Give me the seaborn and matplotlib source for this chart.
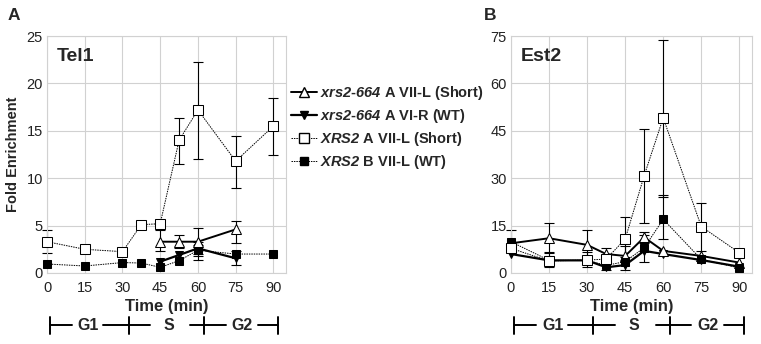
import seaborn as sns
import matplotlib.pyplot as plt
import matplotlib.transforms as mtransforms
from matplotlib.lines import Line2D
import numpy as np

nan = np.nan

# data
time = [0, 15, 30, 37.5, 45, 52.5, 60, 75, 90]
xticks = [0, 15, 30, 45, 60, 75, 90]
phase_labels = ["G1", "S", "G2"]
phase_ticks = [1, 32.5, 62.5, 92]

labels = [
    r"$xrs2$-$664$ A VII-L (Short)",
    r"$xrs2$-$664$ A VI-R (WT)",
    r"$XRS2$ A VII-L (Short)",
    r"$XRS2$ B VII-L (WT)",
]

# Tel1 (panel A)
tel1_mut_short = [nan, nan, nan, nan, 3.3, 3.3, 3.3, 4.6, nan]
tel1_mut_short_lo = [nan, nan, nan, nan, 2.3, 2.6, 2.0, 3.2, nan]
tel1_mut_short_hi = [nan, nan, nan, nan, 4.5, 4.0, 4.7, 5.5, nan]
tel1_mut_wt = [nan, nan, nan, nan, 1.2, 1.9, 2.6, 1.55, nan]
tel1_mut_wt_lo = [nan, nan, nan, nan, nan, nan, 1.4, 0.8, nan]
tel1_mut_wt_hi = [nan, nan, nan, nan, nan, nan, 3.3, 2.3, nan]
tel1_wt_short = [3.3, 2.5, 2.25, 5.1, 5.2, 14.0, 17.2, 11.8, 15.5]
tel1_wt_short_lo = [2.1, nan, nan, nan, nan, 11.5, 12.0, 9.0, 12.4]
tel1_wt_short_hi = [4.5, nan, nan, nan, nan, 16.4, 22.3, 14.5, 18.5]
tel1_wt_wt = [0.95, 0.74, 1.1, 1.05, 0.6, 1.3, 2.4, 2.0, 2.0]
tel1_wt_wt_lo = [nan, nan, nan, nan, nan, nan, 1.8, nan, nan]
tel1_wt_wt_hi = [nan, nan, nan, nan, nan, nan, 3.0, nan, nan]

# Est2 (panel B)
est2_mut_short = [9.4, 11.0, 8.9, 6.0, 5.4, 11.3, 7.0, 5.4, 3.3]
est2_mut_short_lo = [nan, 6.3, 4.5, nan, nan, 9.5, nan, nan, nan]
est2_mut_short_hi = [nan, 15.7, 13.6, nan, nan, 13.0, nan, nan, nan]
est2_mut_wt = [6.0, 4.0, 4.0, 1.8, 2.5, 7.0, 6.0, 4.1, 2.0]
est2_mut_wt_lo = [nan, nan, nan, 1.0, 1.0, nan, nan, nan, nan]
est2_mut_wt_hi = [nan, nan, nan, 8.0, 8.5, nan, nan, nan, nan]
est2_wt_short = [7.8, 3.8, 4.1, 4.4, 10.7, 30.8, 49.1, 14.7, 6.4]
est2_wt_short_lo = [nan, 2.0, 2.0, nan, 5.0, 15.9, 24.1, 7.0, nan]
est2_wt_short_hi = [nan, 6.5, 6.5, nan, 17.6, 45.6, 73.7, 22.3, nan]
est2_wt_wt = [9.9, 4.0, 4.0, 2.4, 3.6, 8.0, 17.0, 4.3, 1.6]
est2_wt_wt_lo = [7.0, nan, nan, nan, nan, 3.5, 10.8, nan, nan]
est2_wt_wt_hi = [13.6, nan, nan, nan, nan, 12.0, 24.7, nan, nan]

sns.set_style("whitegrid", {"grid.color": ".82", "axes.edgecolor": ".82"})
plt.rcParams['font.family'] = ['Liberation Sans', 'DejaVu Sans']
plt.rcParams['mathtext.fontset'] = 'custom'
plt.rcParams['mathtext.it'] = 'Liberation Sans:italic:bold'
plt.rcParams['mathtext.rm'] = 'Liberation Sans:italic:bold'

styles = [
    dict(marker="^", markerfacecolor="white", markeredgecolor="black", color="black", linestyle="-", lw=1.4, markersize=7),
    dict(marker="v", markerfacecolor="black", markeredgecolor="black", color="black", linestyle="-", lw=1.6, markersize=6),
    dict(marker="s", markerfacecolor="white", markeredgecolor="black", color="black", linestyle=(0, (1.5, 1)), lw=0.7, markersize=7),
    dict(marker="s", markerfacecolor="black", markeredgecolor="black", color="black", linestyle=(0, (1.5, 1)), lw=0.7, markersize=6),
]

fig = plt.figure(figsize=(7.61, 3.44), dpi=100)
ax_a = fig.add_axes([47 / 761, 71 / 344, 239 / 761, 237 / 344])
ax_b = fig.add_axes([511 / 761, 71 / 344, 241 / 761, 237 / 344])

panels = [
    (ax_a, "Tel1", 25, 5,
     [(tel1_wt_wt, tel1_wt_wt_lo, tel1_wt_wt_hi, 3),
      (tel1_wt_short, tel1_wt_short_lo, tel1_wt_short_hi, 2),
      (tel1_mut_wt, tel1_mut_wt_lo, tel1_mut_wt_hi, 1),
      (tel1_mut_short, tel1_mut_short_lo, tel1_mut_short_hi, 0)]),
    (ax_b, "Est2", 75, 15,
     [(est2_mut_wt, est2_mut_wt_lo, est2_mut_wt_hi, 1),
      (est2_mut_short, est2_mut_short_lo, est2_mut_short_hi, 0),
      (est2_wt_wt, est2_wt_wt_lo, est2_wt_wt_hi, 3),
      (est2_wt_short, est2_wt_short_lo, est2_wt_short_hi, 2)]),
]

for ax, title, ymax, ystep, series in panels:
    for vals, lo, hi, idx in series:
        v = np.array(vals)
        yerr = [v - np.array(lo), np.array(hi) - v]
        ax.errorbar(time, v, yerr=yerr, fmt="none", ecolor="black", elinewidth=0.8,
                    capsize=3.5, capthick=0.8, zorder=2, clip_on=False)
        mask = ~np.isnan(v)
        sns.lineplot(x=np.array(time)[mask], y=v[mask], ax=ax, legend=False,
                     zorder=3, clip_on=False, **styles[idx])
    ax.set_xlim(0, 95)
    ax.set_ylim(0, ymax)
    ax.set_xticks(xticks)
    ax.set_yticks(np.arange(0, ymax + 1, ystep))
    ax.tick_params(axis="x", length=0, labelsize=10.5, pad=6, colors="#222222")
    ax.tick_params(axis="y", length=0, labelsize=10.5, pad=3, colors="#222222")
    ax.set_xlabel("Time (min)", fontsize=12, fontweight="bold", labelpad=3)
    ax.text(0.04, 0.95, title, transform=ax.transAxes, fontsize=14,
            fontweight="bold", va="top", ha="left")

    # cell cycle bar under the axis
    trans = mtransforms.blended_transform_factory(ax.transData, ax.transAxes)
    yb = -0.22
    segs = [(1, 9.8), (22.3, 41), (57, 71), (84, 92)]
    for x0, x1 in segs:
        ax.plot([x0, x1], [yb, yb], color="black", lw=1.4, transform=trans, clip_on=False)
    for xt in phase_ticks:
        ax.plot([xt, xt], [yb - 0.036, yb + 0.036], color="black", lw=1.4,
                transform=trans, clip_on=False)
    for lab, xm in zip(phase_labels, [16.5, 48.5, 77.5]):
        ax.text(xm, yb, lab, transform=trans, ha="center", va="center",
                fontsize=11.5, fontweight="bold")

ax_a.set_ylabel("Fold Enrichment", fontsize=10.5, fontweight="bold", labelpad=5)
ax_b.set_ylabel("")

fig.text(8 / 761, 1 - 16 / 344, "A", fontsize=12.5, fontweight="bold", va="center")
fig.text(484 / 761, 1 - 16 / 344, "B", fontsize=12.5, fontweight="bold", va="center")

handles = [Line2D([], [], **styles[i]) for i in range(4)]
fig.legend(handles, labels, loc="upper left", bbox_to_anchor=(291 / 761, 1 - 84 / 344),
           frameon=False, handlelength=1.8, handletextpad=0.2,
           labelspacing=0.35, borderaxespad=0, borderpad=0,
           prop={"weight": "bold", "size": 10.5})

fig.savefig("out.png", dpi=100)
